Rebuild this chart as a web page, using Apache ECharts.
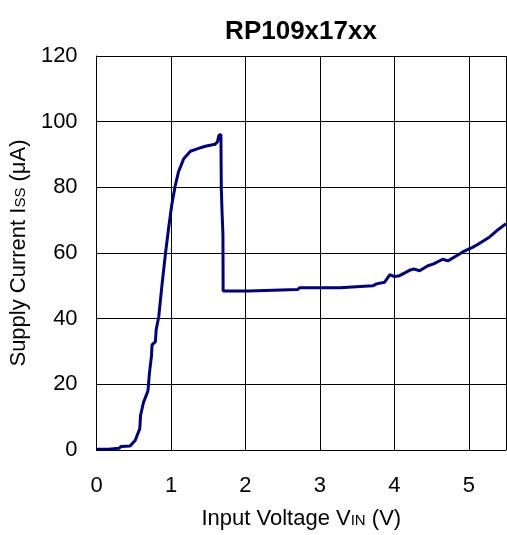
<!DOCTYPE html>
<html><head><meta charset="utf-8">
<script src="https://cdn.jsdelivr.net/npm/echarts@6/dist/echarts.min.js"></script>
<style>html,body{margin:0;padding:0;background:#fff}#c{width:507px;height:535px}</style>
</head><body><div id="c"></div>
<script>
const title = 'RP109x17xx';
const xTicks = [0, 1, 2, 3, 4, 5];
const yTicks = [0, 20, 40, 60, 80, 100, 120];
const vin = [0.00,0.16,0.18,0.30,0.33,0.45,0.48,0.52,0.545,0.58,0.59,0.63,0.69,0.71,0.737,0.745,0.79,0.80,0.835,0.88,0.924,0.968,1.01,1.058,1.10,1.17,1.26,1.35,1.46,1.59,1.625,1.64,1.67,1.675,1.685,1.697,1.70,2.04,2.06,2.70,2.73,3.27,3.28,3.71,3.76,3.87,3.94,4.00,4.07,4.21,4.27,4.34,4.45,4.52,4.65,4.72,4.87,4.94,5.05,5.12,5.28,5.37,5.50];
const iss = [0.2,0.2,0.5,0.5,1.1,1.2,2.0,3.0,4.5,6.5,10.5,14.5,18.0,23.5,28.6,32.0,33.0,36.6,40.6,50.6,59.6,67.7,74.7,80.7,84.7,88.7,91.0,91.7,92.5,93.1,93.9,95.7,96.2,80.0,72.7,65.6,48.4,48.4,48.9,48.9,49.4,49.4,50.0,50.0,50.6,51.1,53.4,52.8,53.1,54.8,55.1,54.6,56.1,56.6,58.1,57.6,59.6,60.6,61.7,62.6,64.9,66.7,68.9];
const points = vin.map((v, i) => [v, iss[i]]);
const chart = echarts.init(document.getElementById('c'), null, {renderer: 'canvas'});
const font = 'Liberation Sans, Arial, sans-serif';
chart.setOption({
  animation: false,
  title: {text: title, left: 296, top: 14, textAlign: 'center',
    textStyle: {fontFamily: font, fontSize: 26, fontWeight: 'bold', color: '#000'}},
  grid: {left: 96, right: 1, top: 56, bottom: 80},
  xAxis: {type: 'value', min: 0, max: 5.5, interval: 1,
    axisLine: {show: true, lineStyle: {color: '#000', width: 1}},
    axisTick: {show: false},
    splitLine: {show: true, lineStyle: {color: '#000', width: 1}},
    axisLabel: {fontFamily: font, fontSize: 22, color: '#000', margin: 25, showMaxLabel: false,
      formatter: v => xTicks.includes(v) ? String(v) : ''},
    name: '{n|Input Voltage V}{s|IN}{n| (V)}', nameLocation: 'middle', nameGap: 58,
    nameTextStyle: {rich: {n: {fontFamily: font, fontSize: 22, color: '#000'}, s: {fontFamily: font, fontSize: 15, color: '#000', padding: [3, 0, 0, 0]}}}
  },
  yAxis: {type: 'value', min: 0, max: 120, interval: 20,
    axisLine: {show: true, lineStyle: {color: '#000', width: 1}},
    axisTick: {show: false},
    splitLine: {show: true, lineStyle: {color: '#000', width: 1}},
    axisLabel: {fontFamily: font, fontSize: 22, color: '#000', margin: 19,
      formatter: v => yTicks.includes(v) ? String(v) : ''},
    name: '{n|Supply Current I}{s|SS}{n| (μA)}', nameLocation: 'middle', nameGap: 60,
    nameTextStyle: {rich: {n: {fontFamily: font, fontSize: 22, color: '#000'}, s: {fontFamily: font, fontSize: 15, color: '#000', padding: [3, 0, 0, 0]}}}
  },
  series: [{type: 'line', data: points, showSymbol: false, smooth: false,
    lineStyle: {color: '#000080', width: 3}, itemStyle: {color: '#000080'}}]
});
</script></body></html>
